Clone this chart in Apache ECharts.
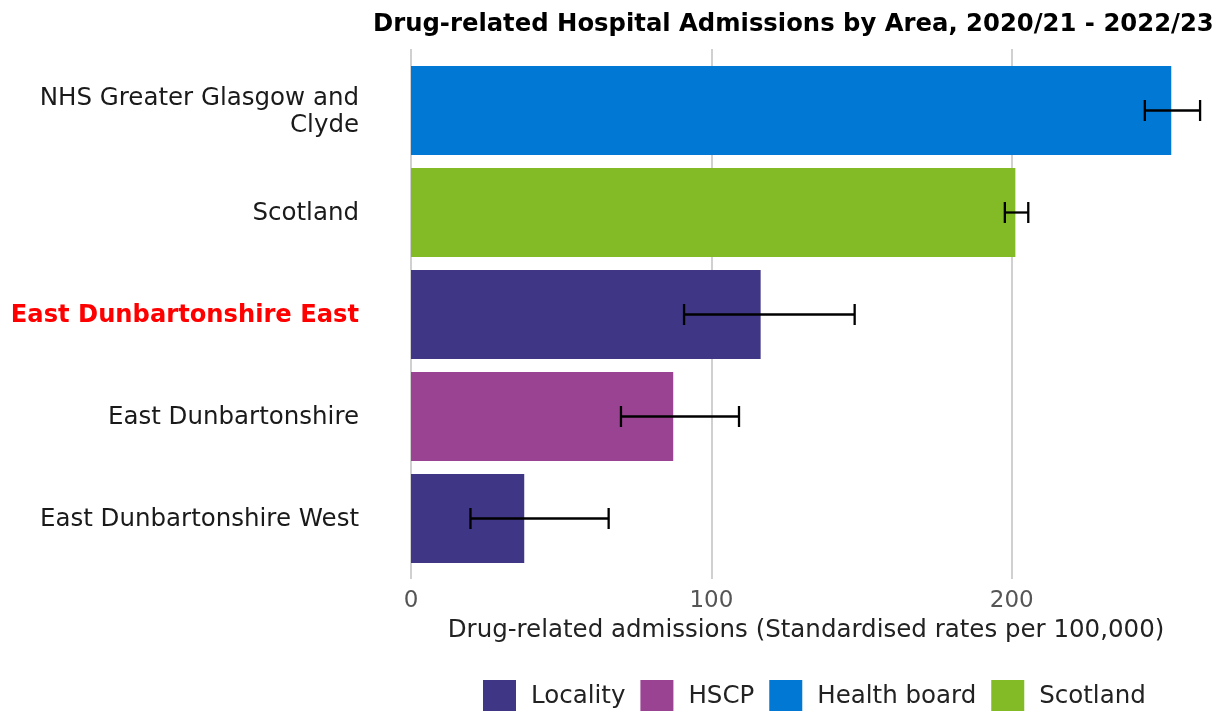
<!DOCTYPE html>
<html>
<head>
<meta charset="utf-8">
<script src="https://cdn.jsdelivr.net/npm/echarts@6/dist/echarts.min.js"></script>
<style>
html,body{margin:0;padding:0;background:#fff;}
#chart{width:1218px;height:711px;}
</style>
</head>
<body>
<div id="chart"></div>
<script>
// ---- data ----
const categories = ['NHS Greater Glasgow and Clyde', 'Scotland', 'East Dunbartonshire East', 'East Dunbartonshire', 'East Dunbartonshire West'];
const areaTypes = ['Health board', 'Scotland', 'Locality', 'HSCP', 'Locality'];
const rates = [253.1, 201.2, 116.4, 87.3, 37.7];
const lowerCI = [244.3, 197.7, 90.9, 69.9, 19.8];
const upperCI = [262.7, 205.5, 147.7, 109.2, 65.8];
const legendOrder = ['Locality', 'HSCP', 'Health board', 'Scotland'];
const highlighted = 'East Dunbartonshire East';
const titleText = 'Drug-related Hospital Admissions by Area, 2020/21 - 2022/23';
const xAxisTitle = 'Drug-related admissions (Standardised rates per 100,000)';
const xMin = 0, xMax = 266, xInterval = 100;

// ---- styles ----
const colours = {'Locality': '#3F3685', 'HSCP': '#9B4393', 'Health board': '#0078D4', 'Scotland': '#83BB26'};
const FONT = 'DejaVu Sans';

function wrap(s, n) {
  const words = s.split(' ');
  const lines = [];
  let cur = '';
  words.forEach(w => {
    if (cur && (cur + ' ' + w).length > n) { lines.push(cur); cur = w; }
    else cur = cur ? cur + ' ' + w : w;
  });
  if (cur) lines.push(cur);
  return lines.join('\n');
}

const barSeries = legendOrder.map(t => ({
  name: t,
  type: 'bar',
  xAxisIndex: 1,
  yAxisIndex: 1,
  stack: 'all',
  barWidth: 89,
  itemStyle: {color: colours[t]},
  data: rates.map((v, i) => areaTypes[i] === t ? v : null),
  emphasis: {disabled: true}
}));

const errData = categories.map((c, i) => [i, lowerCI[i], upperCI[i]]);

const errSeries = {
  type: 'custom',
  xAxisIndex: 1,
  yAxisIndex: 1,
  z: 10,
  encode: {x: [1, 2], y: 0},
  data: errData,
  renderItem: function (params, api) {
    const yi = api.value(0);
    const p1 = api.coord([api.value(1), yi]);
    const p2 = api.coord([api.value(2), yi]);
    const h = 10.5;
    const st = {stroke: '#000', lineWidth: 2.3};
    return {
      type: 'group',
      children: [
        {type: 'line', shape: {x1: p1[0], y1: p1[1], x2: p2[0], y2: p2[1]}, style: st},
        {type: 'line', shape: {x1: p1[0], y1: p1[1] - h, x2: p1[0], y2: p1[1] + h}, style: st},
        {type: 'line', shape: {x1: p2[0], y1: p2[1] - h, x2: p2[0], y2: p2[1] + h}, style: st}
      ]
    };
  }
};

const chart = echarts.init(document.getElementById('chart'), null, {renderer: 'canvas'});
chart.setOption({
  animation: false,
  backgroundColor: '#ffffff',
  textStyle: {fontFamily: FONT},
  title: {
    text: titleText,
    left: 373,
    top: 13,
    padding: 0,
    textStyle: {fontFamily: FONT, fontWeight: 'bold', fontSize: 24.3, color: '#000'}
  },
  legend: {
    data: legendOrder,
    left: 483,
    top: 680,
    padding: 0,
    itemWidth: 33,
    itemHeight: 33,
    itemGap: 15,
    icon: 'rect',
    selectedMode: false,
    textStyle: {fontFamily: FONT, fontSize: 24.5, color: '#222', padding: [2, 0, 0, 10]}
  },
  grid: [
    {left: 411, right: 8, top: 49, bottom: 711 - 579},
    {left: 411, right: 8, top: 59.5, bottom: 711 - 569.5}
  ],
  xAxis: [
    {
      type: 'value', gridIndex: 0, min: xMin, max: xMax, interval: xInterval,
      axisLine: {show: false}, axisTick: {show: false},
      splitLine: {show: true, lineStyle: {color: ['#d0d0d0', '#d0d0d0', '#d0d0d0', 'rgba(0,0,0,0)'], width: 2}},
      axisLabel: {fontFamily: FONT, fontSize: 23, color: '#555', margin: 11, showMaxLabel: false},
      name: xAxisTitle,
      nameLocation: 'middle',
      nameGap: 36,
      nameTextStyle: {fontFamily: FONT, fontSize: 24.5, color: '#222', verticalAlign: 'top', padding: [0, 9, 0, 0]}
    },
    {type: 'value', gridIndex: 1, min: xMin, max: xMax, show: false}
  ],
  yAxis: [
    {type: 'value', gridIndex: 0, show: false},
    {
      type: 'category', gridIndex: 1, data: categories, inverse: true,
      axisLine: {show: false}, axisTick: {show: false}, splitLine: {show: false},
      axisLabel: {
        margin: 52,
        fontFamily: FONT, fontSize: 24.5, color: '#1a1a1a', lineHeight: 27, align: 'right',
        padding: [3, 0, 0, 0],
        formatter: function (v) {
          if (v === highlighted) return '{hl|' + v + '}';
          return wrap(v, 25);
        },
        rich: {hl: {fontFamily: FONT, fontSize: 24.2, fontWeight: 'bold', color: '#ff0000'}}
      }
    }
  ],
  series: barSeries.concat([errSeries])
});
</script>
</body>
</html>
